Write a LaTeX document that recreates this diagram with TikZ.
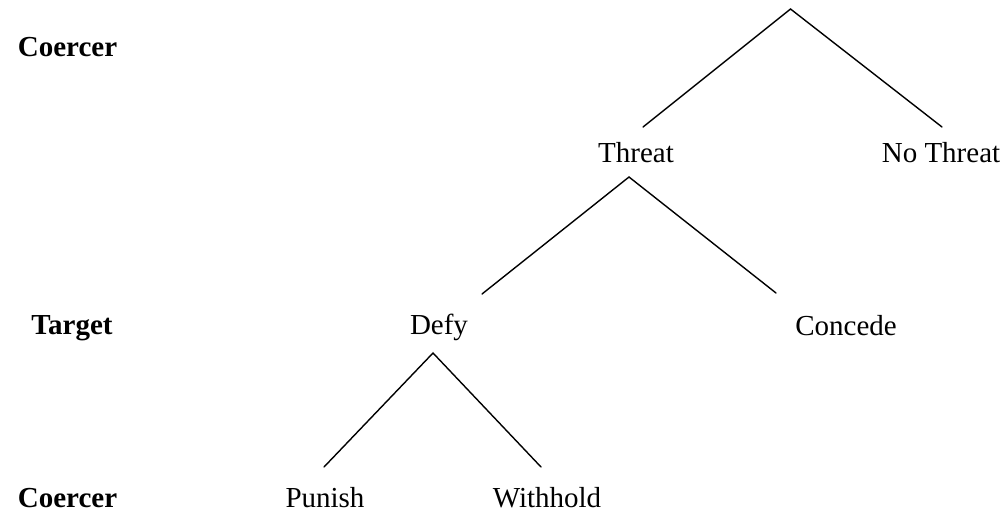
\documentclass[tikz,border=0pt]{standalone}
\usepackage{fontspec}
\setmainfont{Liberation Serif}
\begin{document}
\begin{tikzpicture}[x=1pt,y=-1pt,
  lbl/.style={font=\fontsize{29}{34}\selectfont, anchor=base, inner sep=0pt},
  player/.style={font=\fontsize{29}{34}\selectfont\bfseries, anchor=base, inner sep=0pt},
  edge/.style={line width=1.4pt, line cap=round}]
\useasboundingbox (0,0) rectangle (1008,513);
% player labels
\node[player] (pc1) at (67.5,57) {Coercer};
\node[player] (pt) at (72,334) {Target};
\node[player] (pc2) at (67.5,507) {Coercer};
% action labels
\node[lbl] (threat) at (636,163) {Threat};
\node[lbl] (nothreat) at (941,163) {No Threat};
\node[lbl] (defy) at (439,334) {Defy};
\node[lbl] (concede) at (846,335) {Concede};
\node[lbl] (punish) at (325,507) {Punish};
\node[lbl] (withhold) at (547,507) {Withhold};
% branch points
\coordinate (root) at (790.5,9);
\coordinate (rl) at (643,127);
\coordinate (rr) at (942,127);
\coordinate (tv) at (629,177);
\coordinate (tl) at (482,294);
\coordinate (tr) at (776,293);
\coordinate (dv) at (433,353);
\coordinate (dl) at (324,467);
\coordinate (dr) at (541,467);
\draw[edge] (rl) -- (root) -- (rr);
\draw[edge] (tl) -- (tv) -- (tr);
\draw[edge] (dl) -- (dv) -- (dr);
\end{tikzpicture}
\end{document}
